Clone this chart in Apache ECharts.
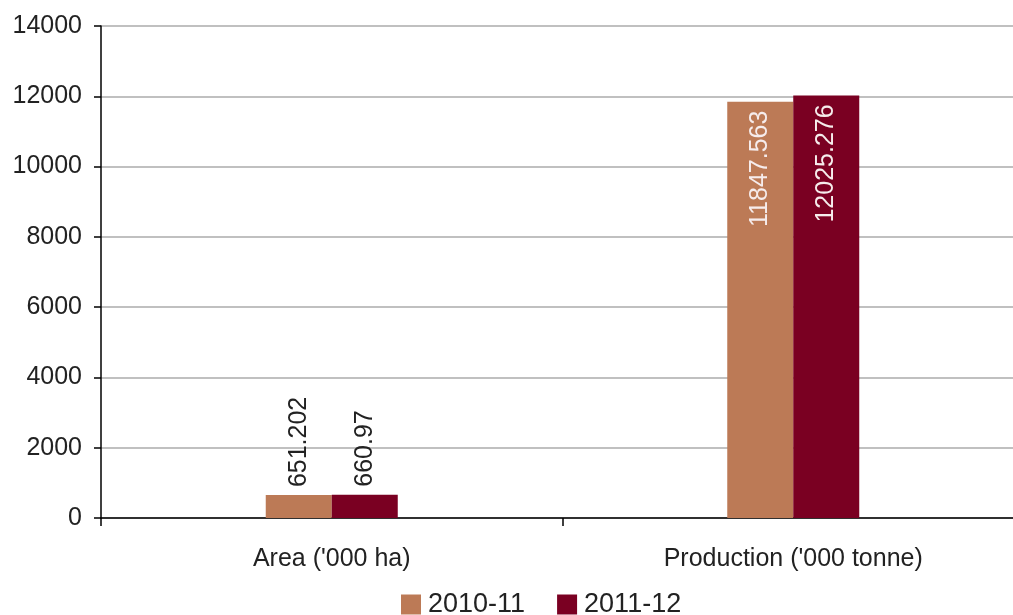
<!DOCTYPE html>
<html>
<head>
<meta charset="utf-8">
<style>
  html, body { margin: 0; padding: 0; background: #fff; overflow: hidden; }
  #chart { width: 1024px; height: 615px; }
</style>
<script src="https://cdn.jsdelivr.net/npm/echarts@6/dist/echarts.min.js"></script>
</head>
<body>
<div id="chart"></div>
<script>
// Categories and yearly values
const categories = ["Area ('000 ha)", "Production ('000 tonne)"];
const seriesNames = ['2010-11', '2011-12'];
const values2010 = [651.202, 11847.563];
const values2011 = [660.97, 12025.276];
const seriesColors = ['#BC7A56', '#7A0022'];

const FONT = '"Liberation Sans", Arial, sans-serif';

const chart = echarts.init(document.getElementById('chart'), null, { renderer: 'canvas' });

// Small bars get their value above, tall bars get it inside near the top
function barData(values) {
  return values.map(v => {
    const inside = v > 5000;
    return {
      value: v,
      label: inside
        ? { position: 'insideTop', align: 'right', distance: 9, color: '#F6ECEC' }
        : { position: 'top', align: 'left', distance: 8, color: '#222' }
    };
  });
}

const seriesData = [values2010, values2011];

chart.setOption({
  animation: false,
  backgroundColor: '#ffffff',
  textStyle: { fontFamily: FONT },
  grid: { left: 101, top: 26, right: 0, bottom: 97, containLabel: false },
  legend: {
    data: seriesNames,
    left: 396,
    top: 586,
    itemWidth: 20,
    itemHeight: 20,
    itemGap: 32,
    icon: 'rect',
    textStyle: { fontFamily: FONT, fontSize: 27, color: '#222', padding: [0, 0, 0, 2] }
  },
  xAxis: {
    type: 'category',
    data: categories,
    axisLine: { lineStyle: { color: '#000', width: 1.5 } },
    axisTick: { show: true, length: 8, lineStyle: { color: '#000', width: 1.5 } },
    axisLabel: { margin: 29, fontSize: 25, color: '#222', fontFamily: FONT }
  },
  yAxis: {
    type: 'value',
    min: 0,
    max: 14000,
    interval: 2000,
    axisLine: { show: true, lineStyle: { color: '#000', width: 1.5 } },
    axisTick: { show: true, length: 7, lineStyle: { color: '#000', width: 1.5 } },
    axisLabel: { margin: 19, fontSize: 25, color: '#222', fontFamily: FONT, formatter: v => String(v) },
    splitLine: { lineStyle: { color: '#ababab', width: 1.5 } }
  },
  series: seriesNames.map((name, i) => ({
    name: name,
    type: 'bar',
    data: barData(seriesData[i]),
    barWidth: 66,
    barGap: '0%',
    itemStyle: { color: seriesColors[i] },
    label: {
      show: true,
      rotate: 90,
      verticalAlign: 'middle',
      fontSize: 25,
      fontFamily: FONT,
      formatter: p => String(p.value)
    }
  }))
});
</script>
</body>
</html>
